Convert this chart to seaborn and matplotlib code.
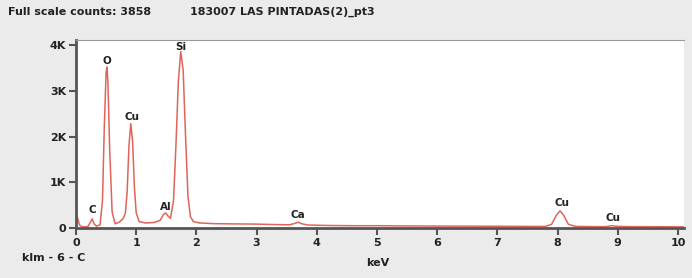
import matplotlib

matplotlib.use("Agg")

import matplotlib.pyplot as plt
import pandas as pd
import seaborn as sns

# spectrum (keV, counts)
energy_kev = [
    0.00, 0.03, 0.06, 0.10, 0.15, 0.20, 0.24, 0.27, 0.30, 0.34,
    0.40, 0.44, 0.47, 0.50, 0.515, 0.53, 0.56, 0.60, 0.65, 0.72,
    0.78, 0.82, 0.85, 0.88, 0.91, 0.94, 0.97, 1.00, 1.05, 1.15,
    1.30, 1.40, 1.45, 1.49, 1.53, 1.57, 1.62, 1.66, 1.70, 1.74,
    1.78, 1.82, 1.86, 1.90, 1.95, 2.05, 2.30, 2.60, 3.00, 3.30,
    3.55, 3.62, 3.69, 3.76, 3.85, 4.20, 4.60, 5.00, 5.50, 6.00,
    6.50, 7.00, 7.50, 7.80, 7.90, 7.98, 8.04, 8.10, 8.18, 8.30,
    8.60, 8.80, 8.90, 9.00, 9.20, 9.60, 10.00, 10.20,
]
counts = [
    350, 200, 60, 30, 25, 35, 130, 200, 90, 40,
    70, 600, 2200, 3400, 3520, 3200, 1700, 350, 90, 130,
    200, 320, 800, 1800, 2280, 1900, 900, 330, 140, 110,
    120, 170, 290, 330, 260, 210, 600, 1800, 3200, 3858,
    3450, 2000, 700, 250, 140, 110, 95, 90, 85, 75,
    70, 95, 125, 90, 65, 55, 50, 50, 45, 42,
    40, 38, 35, 35, 80, 280, 375, 280, 80, 35,
    30, 30, 50, 35, 30, 28, 25, 25,
]

# peak labels
peak_names = ["C", "O", "Cu", "Al", "Si", "Ca", "Cu", "Cu"]
peak_x = [0.27, 0.52, 0.93, 1.49, 1.74, 3.69, 8.07, 8.92]
peak_y = [390, 3640, 2430, 470, 3960, 280, 540, 210]

x_ticks = list(range(11))
y_ticks = [0, 1000, 2000, 3000, 4000]
y_labels = ["0", "1K", "2K", "3K", "4K"]

sns.set_theme(style="white")
plt.rcParams["font.family"] = ["DejaVu Sans"]

bg = "#ebebeb"
fig = plt.figure(figsize=(6.92, 2.78), dpi=100, facecolor=bg)
ax = fig.add_axes([76 / 692, 50 / 278, 608 / 692, 188 / 278])
ax.set_facecolor("white")

df = pd.DataFrame({"keV": energy_kev, "counts": counts})
sns.lineplot(data=df, x="keV", y="counts", ax=ax, color="#e0645a",
             linewidth=1.1, sort=False)

for name, px, py in zip(peak_names, peak_x, peak_y):
    ax.text(px, py, name, ha="center", va="center", fontsize=7.5,
            fontweight="bold", color="#222222")

ax.set_xlim(0, 10.1)
ax.set_ylim(0, 4110)
ax.set_xticks(x_ticks)
ax.set_yticks(y_ticks)
ax.set_yticklabels(y_labels)
ax.set_xlabel("")
ax.set_ylabel("")
ax.tick_params(axis="both", which="both", length=5, width=1.5, color="#555555",
               labelsize=8, labelcolor="#222222", pad=2, direction="out",
               bottom=True, left=True)
for lbl in ax.get_xticklabels() + ax.get_yticklabels():
    lbl.set_fontweight("bold")

for side in ["left", "bottom"]:
    ax.spines[side].set_color("#555555")
    ax.spines[side].set_linewidth(2)
ax.spines["top"].set_color("#9a9a9a")
ax.spines["top"].set_linewidth(0.8)
ax.spines["right"].set_visible(False)

fig.text(8 / 692, 1 - 12 / 278, "Full scale counts: 3858", fontsize=8,
         fontweight="bold", color="#222222", va="center")
fig.text(190 / 692, 1 - 12 / 278, "183007 LAS PINTADAS(2)_pt3", fontsize=8,
         fontweight="bold", color="#222222", va="center")
fig.text(22 / 692, 1 - 258 / 278, "klm - 6 - C", fontsize=8,
         fontweight="bold", color="#222222", va="center")
fig.text(378 / 692, 1 - 263 / 278, "keV", fontsize=8,
         fontweight="bold", color="#222222", va="center", ha="center")

fig.savefig("out.png", dpi=100, facecolor=bg)
